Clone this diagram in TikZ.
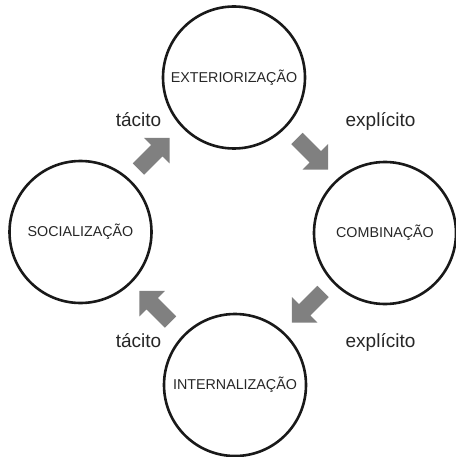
\documentclass[tikz,border=0pt]{standalone}
\usepackage{fontspec}
\setmainfont{Liberation Sans}
\tikzset{
  stage/.style={circle, draw=black!90, line width=2.6pt, minimum size=142pt, inner sep=0pt, font=\fontsize{14.3}{16}\selectfont, text=black!85},
  lbl/.style={font=\fontsize{19}{22}\selectfont, text=black!85, inner sep=0pt},
  blockarrow/.pic={\fill[black!50] (-22,-8) -- (4,-8) -- (4,-18) -- (22,0) -- (4,18) -- (4,8) -- (-22,8) -- cycle;}
}
\begin{document}
\begin{tikzpicture}[x=1pt,y=-1pt]
\useasboundingbox (0,0) rectangle (455,457);
\node[stage] (ext) at (234,77.5) {EXTERIORIZAÇÃO};
\node[stage] (soc) at (80.5,232) {SOCIALIZAÇÃO};
\node[stage] (com) at (385,233) {COMBINAÇÃO};
\node[stage] (int) at (235,385) {INTERNALIZAÇÃO};
\node[lbl] (t1) at (138.5,120) {tácito};
\node[lbl] (e1) at (380.5,121) {explícito};
\node[lbl] (t2) at (138.5,341) {tácito};
\node[lbl] (e2) at (380.5,342) {explícito};
\pic[rotate=45] at (154,153.5) {blockarrow};
\pic[rotate=-45] at (312.5,154) {blockarrow};
\pic[rotate=-135] at (307.5,307) {blockarrow};
\pic[rotate=135] at (155,306.5) {blockarrow};
\end{tikzpicture}
\end{document}
